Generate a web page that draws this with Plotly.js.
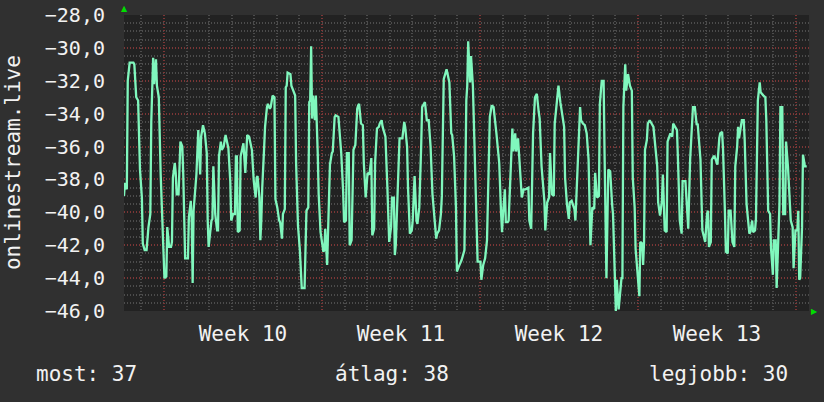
<!DOCTYPE html>
<html>
<head>
<meta charset="utf-8">
<script src="https://cdn.plot.ly/plotly-3.0.1.min.js"></script>
<style>html,body{margin:0;padding:0;background:#303030;}#chart{width:824px;height:402px;}</style>
</head>
<body>
<div id="chart"></div>
<script>
// time in hours from the left edge of the chart
const hours = [
0,1,3,4,6,10,11,13,15,17,
19,20,22,24,26,28,29,31,32,34,
35,37,39,41,43,45,46,48,50,51,
52,54,55,56,58,60,62,63,64,65,
68,69,71,72,73,74,77,79,80,81,
82,84,86,88,89,90,93,94,95,97,
99,100,101,103,104,106,108,111,113,114,
116,118,119,120,121,123,124,125,127,129,
130,131,133,135,136,138,140,141,142,144,
145,146,147,149,150,152,153,155,156,158,
160,161,163,165,166,168,169,171,172,173,
174,177,178,180,182,183,185,187,188,189,
192,194,196,197,198,199,200,201,203,204,
206,207,209,212,213,214,216,217,219,221,
222,224,225,228,229,231,233,234,236,237,
239,240,242,244,246,248,249,250,252,254,
255,257,259,261,263,264,266,267,269,271,
272,274,275,278,280,282,284,285,287,288,
289,290,292,293,296,298,299,301,302,304,
306,307,309,311,312,314,316,317,320,322,
324,326,328,330,332,333,335,337,338,340,
342,343,346,348,349,351,353,354,356,358,
359,362,364,365,366,368,369,371,373,375,
376,379,380,382,384,386,387,389,391,393,
396,397,399,401,402,403,405,406,408,409,
412,413,414,416,417,419,420,422,423,425,
427,430,431,433,434,435,437,439,441,442,
444,447,448,450,452,453,455,457,458,460,
462,464,466,468,469,471,473,474,476,479,
480,482,484,485,486,488,490,492,494,496,
498,500,501,503,505,506,508,510,511,513,
515,517,519,520,522,523,524,526,529,530,
531,533,534,536,538,540,541,543,544,546,
548,549,551,552,553,554,556,557,559,561,
563,565,567,568,570,572,573,575,577,578,
581,583,584,586,588,589,591,593,594,597,
599,600,602,604,605,607,609,610,613,615,
616,618,620,621,622,624,625,627,628,631,
633,634,636,637,639,640,642,643,645,647,
649,650,652,653,654,656,657,659,660,662,
665,666,668,669,671,672,674,676,677,680,
682,683,685,687,688,690,691,693,694,697,
698,700,701,703,704,706,707,709,711,712,
714,716,717,718,719,721,722,724,726
];
const values = [
-39.0,-38.2,-38.6,-32.0,-30.9,-30.9,-31.0,-33.0,-33.2,-37.4,
-39.1,-41.9,-42.3,-42.3,-40.9,-40.1,-34.5,-30.6,-32.2,-30.7,
-32.3,-33.0,-37.7,-40.9,-44.0,-43.9,-40.9,-42.1,-42.1,-41.8,
-37.9,-37.0,-37.6,-38.9,-38.9,-35.7,-36.0,-37.7,-40.5,-42.8,
-42.8,-40.3,-39.3,-40.5,-44.3,-39.9,-37.7,-35.0,-36.4,-37.7,
-35.4,-34.7,-35.2,-36.4,-40.5,-42.1,-40.5,-40.4,-37.2,-40.1,
-41.1,-41.1,-36.6,-35.7,-36.2,-36.0,-35.3,-36.1,-38.1,-40.5,
-40.1,-40.1,-36.6,-36.6,-41.2,-41.1,-36.6,-36.3,-35.8,-37.6,
-36.4,-35.3,-35.4,-36.0,-36.2,-38.1,-39.1,-37.9,-37.8,-39.1,
-41.7,-40.5,-38.5,-36.1,-34.8,-33.6,-33.4,-33.7,-33.6,-32.9,
-33.0,-39.2,-39.7,-40.5,-40.6,-41.6,-40.1,-39.8,-32.4,-32.3,
-31.5,-31.6,-32.3,-32.6,-32.9,-37.0,-40.8,-42.3,-43.2,-44.6,
-44.6,-39.9,-39.7,-33.3,-33.2,-29.9,-34.3,-32.9,-34.4,-32.9,
-36.4,-38.9,-41.2,-42.4,-42.3,-41.0,-43.2,-41.5,-37.1,-36.4,
-36.3,-34.2,-34.1,-34.2,-34.8,-36.4,-38.7,-40.6,-40.5,-36.4,
-36.4,-42.0,-41.7,-36.2,-35.9,-33.7,-33.5,-33.4,-34.6,-34.7,
-37.0,-39.1,-37.6,-37.7,-36.7,-41.4,-41.0,-37.0,-34.9,-34.8,
-34.6,-34.4,-34.8,-35.4,-38.4,-41.8,-40.9,-39.1,-39.1,-42.6,
-42.0,-40.5,-36.4,-35.5,-35.5,-34.5,-34.8,-36.0,-38.5,-41.3,
-41.1,-40.5,-37.8,-40.5,-40.7,-39.7,-36.0,-33.6,-33.3,-34.4,
-34.4,-36.0,-38.9,-40.1,-41.6,-41.3,-41.1,-40.1,-39.0,-31.9,
-31.5,-31.3,-32.1,-35.2,-35.3,-36.6,-39.7,-43.6,-43.3,-43.0,
-42.9,-42.3,-33.2,-32.3,-29.6,-32.1,-30.5,-32.3,-36.4,-39.8,
-43.0,-43.0,-44.1,-43.2,-42.8,-41.7,-38.5,-34.2,-33.5,-33.6,
-35.2,-35.8,-37.0,-40.1,-41.2,-40.1,-38.6,-40.6,-40.6,-40.5,
-36.2,-34.9,-36.3,-35.2,-36.3,-35.5,-36.4,-38.1,-39.1,-38.6,
-38.6,-38.5,-40.5,-41.0,-37.7,-35.2,-33.0,-32.8,-33.9,-34.3,
-37.2,-39.3,-41.1,-39.4,-39.1,-36.4,-38.9,-39.0,-34.6,-33.4,
-32.3,-33.3,-34.2,-34.8,-37.9,-39.5,-40.4,-39.4,-39.3,-39.8,
-40.5,-37.4,-35.0,-33.6,-34.4,-34.6,-34.7,-35.2,-36.8,-42.0,
-39.7,-39.8,-37.6,-39.1,-39.0,-33.4,-32.0,-32.0,-36.4,-44.0,
-37.4,-37.5,-39.5,-40.1,-44.0,-46.0,-44.1,-45.9,-44.0,-44.0,
-33.6,-31.0,-32.6,-31.6,-32.3,-32.6,-37.9,-39.7,-42.2,-43.8,
-45.1,-41.8,-41.9,-43.2,-41.8,-36.2,-35.6,-34.6,-34.4,-34.6,
-34.8,-36.0,-37.2,-39.4,-40.2,-39.3,-37.7,-41.1,-41.2,-35.7,
-35.2,-35.4,-34.6,-34.8,-35.0,-36.7,-40.5,-41.3,-38.1,-38.1,
-40.3,-41.0,-36.8,-33.9,-33.6,-33.6,-34.7,-34.6,-36.8,-41.1,
-41.3,-41.8,-40.1,-39.9,-42.1,-41.8,-36.8,-36.6,-36.6,-37.1,
-35.5,-35.2,-35.1,-36.2,-40.0,-42.4,-42.5,-39.9,-39.9,-41.8,
-42.1,-37.2,-36.0,-34.8,-35.5,-34.8,-34.4,-34.4,-35.6,-39.5,
-41.3,-41.2,-40.5,-41.2,-41.1,-40.4,-33.2,-32.1,-32.7,-32.9,
-33.0,-34.4,-39.9,-40.1,-42.2,-43.8,-41.7,-41.7,-44.6,-39.5,
-33.6,-33.6,-40.1,-40.1,-35.7,-37.2,-38.1,-40.5,-40.9,-43.4,
-41.1,-41.1,-39.9,-44.1,-44.0,-40.9,-36.5,-37.2,-37.2
];
const weekStarts = [42.5, 210.5, 378.5, 546.5, 714.5];
const weekCenters = [126.5, 294.5, 462.5, 630.5];
const weekLabels = ['Week 10', 'Week 11', 'Week 12', 'Week 13'];
const dayGridStart = 18.5, hoursPerDay = 24;
const timeRange = [0, 728.4];
const valueRange = [-46, -28];
const seriesName = 'onlinestream.live';
const statsText = ['most: 37', 'átlag: 38', 'legjobb: 30'];

const FONT = 'DejaVu Sans Mono, monospace';
const traces = [
  {x: weekStarts, y: weekStarts.map(() => null), type: 'scatter', mode: 'lines',
   xaxis: 'x2', yaxis: 'y', hoverinfo: 'skip', showlegend: false},
  {x: hours, y: values, type: 'scatter', mode: 'lines', xaxis: 'x', yaxis: 'y',
   line: {color: '#80f7bd', width: 2.3, shape: 'linear'}, hoverinfo: 'skip', cliponaxis: true}
];
const major = '#7c3636', minor = '#4c4c4c', dash = '1px,2px', gw = 2;
const layout = {
  width: 824, height: 402,
  paper_bgcolor: '#303030', plot_bgcolor: '#222222',
  margin: {l: 124, r: 15, t: 15, b: 91},
  separators: ', ',
  showlegend: false,
  font: {family: FONT, color: '#f2f2f2', size: 21},
  xaxis: {range: timeRange, tickmode: 'array', tickvals: weekCenters, ticktext: weekLabels,
    showgrid: false, zeroline: false,
    ticks: 'outside', ticklen: 4, tickcolor: 'rgba(0,0,0,0)',
    tickfont: {family: FONT, size: 21, color: '#f2f2f2'},
    minor: {tickmode: 'linear', tick0: dayGridStart, dtick: hoursPerDay, showgrid: true, gridcolor: minor,
            griddash: dash, gridwidth: gw, ticks: '', ticklen: 3, tickcolor: '#555555'},
    showline: false, fixedrange: true},
  xaxis2: {overlaying: 'x', range: timeRange, side: 'bottom', tickmode: 'array',
    tickvals: weekStarts, showticklabels: false, showgrid: true, gridcolor: major, griddash: dash,
    gridwidth: gw, zeroline: false, ticks: '', fixedrange: true},
  yaxis: {range: valueRange, tickmode: 'linear', tick0: -46, dtick: 2, tickformat: '.1f',
    showgrid: true, gridcolor: major, griddash: dash, gridwidth: gw, zeroline: false,
    minor: {tickmode: 'linear', tick0: -46, dtick: 0.5, showgrid: true, gridcolor: minor, griddash: dash, gridwidth: gw},
    ticks: 'outside', ticklen: 14, tickcolor: 'rgba(0,0,0,0)',
    tickfont: {family: FONT, size: 20, color: '#f2f2f2'}, fixedrange: true},
  annotations: [
    {text: seriesName, xref: 'paper', yref: 'paper', x: -0.162, y: 0.5, textangle: -90,
     showarrow: false, font: {family: FONT, size: 21, color: '#f2f2f2'}, xanchor: 'center', yanchor: 'middle'},
    {text: statsText[0], xref: 'paper', yref: 'paper', x: -0.1314, y: -0.213, xanchor: 'left', yanchor: 'middle',
     showarrow: false, font: {family: FONT, size: 21, color: '#f2f2f2'}},
    {text: statsText[1], xref: 'paper', yref: 'paper', x: 0.305, y: -0.213, xanchor: 'left', yanchor: 'middle',
     showarrow: false, font: {family: FONT, size: 21, color: '#f2f2f2'}},
    {text: statsText[2], xref: 'paper', yref: 'paper', x: 0.972, y: -0.213, xanchor: 'right', yanchor: 'middle',
     showarrow: false, font: {family: FONT, size: 21, color: '#f2f2f2'}},
    {text: '▲', xref: 'paper', yref: 'paper', x: 0, y: 1, xanchor: 'center', yanchor: 'bottom',
     showarrow: false, font: {family: 'DejaVu Sans', size: 8, color: '#00dd00'}},
    {text: '▶', xref: 'paper', yref: 'paper', x: 1, y: 0, xanchor: 'left', yanchor: 'middle',
     showarrow: false, font: {family: 'DejaVu Sans', size: 8, color: '#00dd00'}}
  ]
};
Plotly.newPlot('chart', traces, layout, {staticPlot: true, displayModeBar: false});
</script>
</body>
</html>
